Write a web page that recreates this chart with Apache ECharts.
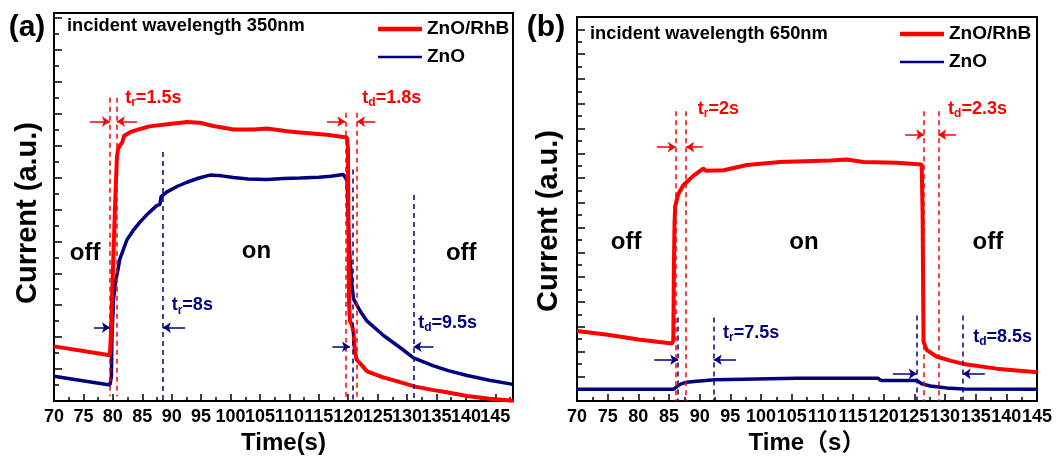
<!DOCTYPE html>
<html>
<head>
<meta charset="utf-8">
<script src="https://cdn.jsdelivr.net/npm/echarts@6/dist/echarts.min.js"></script>
<style>html,body{margin:0;padding:0;background:#fff;}#c{width:1063px;height:460px;}</style>
</head>
<body>
<div id="c"></div>
<script>
// ---------- data: panel (a) 350 nm ----------
const aRhB = [[70,3.42],[79.5,2.86],[79.65,4],[80.0,8],[80.4,12.5],[80.7,15.3],[80.9,15.8],[81.2,16.0],[81.6,16.2],[81.9,16.6],[83,16.85],[85.8,17.16],[86.0,17.05],[86.2,17.2],[89.2,17.33],[92.6,17.48],[94.8,17.43],[97.1,17.22],[100.5,17.0],[103.9,17.0],[106.2,17.06],[109.6,16.9],[111.8,16.81],[116.4,16.67],[119.8,16.5],[119.95,15.8],[120.05,10],[120.15,6],[120.3,5.0],[120.6,4.8],[120.9,4.3],[121.1,3.2],[121.4,2.6],[122.4,2.2],[123.2,1.85],[125.8,1.5],[128.8,1.18],[131.4,0.9],[134.5,0.68],[136.5,0.56],[140.2,0.31],[144,0.14],[148,0.02]];
const aZnO = [[70,1.55],[79.5,1.0],[79.75,1.5],[79.85,4.0],[80.0,5.3],[80.1,6.3],[80.4,7.3],[81.2,8.9],[82.4,10.1],[83.5,10.7],[84.6,11.2],[86,11.75],[87.5,12.25],[88.0,12.3],[88.2,12.8],[89.2,13.1],[91,13.45],[92.6,13.7],[94.5,13.95],[96.5,14.15],[98.5,14.1],[100.5,14.0],[103,13.9],[106.2,13.87],[109,13.93],[111.8,13.97],[115,14.02],[117,14.07],[119.2,14.18],[119.8,13.8],[120.05,11.0],[120.3,8.9],[120.6,7.4],[120.9,6.4],[122,5.65],[123.2,5.0],[126,4.1],[128.8,3.35],[131.1,2.7],[134.5,2.2],[137,1.9],[140.2,1.6],[144,1.3],[148,1.04]];
// ---------- data: panel (b) 650 nm ----------
const bRhB = [[70,5.65],[75,5.35],[80.3,4.95],[85.5,4.65],[85.7,4.9],[85.75,7.7],[85.8,11],[85.9,14.3],[86.0,15.7],[86.5,16.7],[87.3,17.4],[89.0,18.2],[90.6,18.76],[91.0,18.6],[93.9,18.63],[97.7,19.06],[103.1,19.3],[111.3,19.42],[114,19.5],[116.7,19.3],[122.1,19.24],[126.2,19.1],[126.35,15],[126.45,8],[126.5,4.8],[127.0,4.13],[128.6,3.6],[131,3.25],[133.0,3.0],[138.4,2.62],[145,2.33]];
const bZnO = [[70,0.95],[85.7,0.95],[86.8,1.35],[87.9,1.53],[89.5,1.61],[92.5,1.72],[92.8,1.83],[105.8,1.85],[119.1,1.85],[119.5,1.67],[125.4,1.67],[126.2,1.4],[127.6,1.22],[130.3,1.06],[133,0.98],[145,0.95]];

// annotations: dashed verticals [colour, t, vTop, vBottom]
const aDash = [['r',79.5,19.0,0.3],['r',80.7,19.0,0.3],['r',119.5,18.05,0.2],['r',121.5,18.05,0.2],['b',88.5,15.6,0],['b',120.7,14.5,0],['b',131.1,12.9,0]];
const bDash = [['r',86.1,23.4,0],['r',87.8,23.4,0],['r',126.6,23.4,0],['r',128.9,23.4,0],['b',86.5,6.75,0],['b',92.3,6.75,0],['b',125.4,6.9,0],['b',132.9,6.9,0]];
// arrows [colour, fromT, toT, v]
const aArrow = [['r',76.1,79.5,17.5],['r',84.1,80.7,17.5],['r',116.4,119.5,17.5],['r',124.6,121.5,17.5],['b',76.8,79.5,4.6],['b',92.3,88.5,4.6],['b',117.3,120.3,3.4],['b',134.5,131.1,3.4]];
const bArrow = [['r',83.0,86.1,20.5],['r',90.5,87.8,20.5],['r',123.5,126.6,21.5],['r',131.8,128.9,21.5],['b',82.6,86.5,3.34],['b',95.9,92.3,3.34],['b',121.5,125.4,2.2],['b',136.5,132.9,2.2]];
// time-constant labels [colour, t, v, subscript, text]
const aTimes = [['r',82.1,19.0,'r','=1.5s'],['r',122.4,19.0,'d','=1.8s'],['b',90.0,6.0,'r','=8s'],['b',131.9,4.9,'d','=9.5s']];
const bTimes = [['r',89.7,23.6,'r','=2s'],['r',130.5,23.6,'d','=2.3s'],['b',93.8,5.5,'r','=7.5s'],['b',134.6,5.2,'d','=8.5s']];
// on/off labels [text, t, v]
const aState = [['off',75.3,9.25],['on',104.4,9.35],['off',139.2,9.25]];
const bState = [['off',78.0,12.8],['on',107.0,12.8],['off',137.0,12.8]];
const legendNames = ['ZnO/RhB', 'ZnO'];

const RED = '#ff0000', BLUE = '#000080';
const FF = '"Liberation Sans", Arial, "Noto Sans CJK SC", sans-serif';
const col = c => c === 'r' ? RED : BLUE;

function dashLines(list, c) {
  return list.filter(d => d[0] === c).map(d => [{coord:[d[1], d[2]]}, {coord:[d[1], d[3]]}]);
}
function arrows(list, c) {
  return list.filter(d => d[0] === c).map(d => [{coord:[d[1], d[3]], symbol:'none'}, {coord:[d[2], d[3]], symbol:'arrow', symbolSize:8}]);
}
function timeLabels(list, c) {
  return list.filter(d => d[0] === c).map(d => ({
    coord:[d[1], d[2]], symbol:'circle', symbolSize:0,
    label:{show:true, position:'inside', align:'left', verticalAlign:'middle',
      formatter:'{m|t}{s|' + d[3] + '}{m|' + d[4] + '}',
      rich:{m:{fontSize:18, fontWeight:'bold', fontFamily:FF, color:col(c)},
            s:{fontSize:12, fontWeight:'bold', fontFamily:FF, color:col(c), padding:[10,0,0,0]}}}
  }));
}
function stateLabels(list) {
  return list.map(d => ({coord:[d[1], d[2]], symbol:'circle', symbolSize:0,
    label:{show:true, position:'inside', align:'center', verticalAlign:'middle', formatter:d[0],
      fontSize:24, fontWeight:'bold', fontFamily:FF, color:'#000'}}));
}

function mainSeries(name, data, idx, c, dash, arr, times, states) {
  const s = {
    name: name, type:'line', xAxisIndex:idx, yAxisIndex:idx, data:data,
    symbol:'none', showSymbol:false, smooth:false, z: c === 'r' ? 3 : 2,
    lineStyle:{color:col(c), width: c === 'r' ? 4 : 3.5},
    itemStyle:{color:col(c)},
    markLine:{silent:true, animation:false, symbol:['none','none'], label:{show:false},
      lineStyle:{color:col(c), width:1.5, type:[5,4]},
      emphasis:{disabled:true},
      data: dashLines(dash, c)},
    markPoint:{silent:true, animation:false, data: timeLabels(times, c).concat(states ? stateLabels(states) : [])}
  };
  return [s, {
    name: name + '_arrows', type:'line', xAxisIndex:idx, yAxisIndex:idx, data:[],
    symbol:'none', silent:true,
    markLine:{silent:true, animation:false, label:{show:false}, symbol:['none','arrow'], symbolSize:8,
      lineStyle:{color:col(c), width:1.5, type:'solid'}, emphasis:{disabled:true},
      data: arrows(arr, c)}
  }];
}

function xAxis(idx, max, name, gap) {
  return {type:'value', gridIndex:idx, min:70, max:max, interval:5,
    name:name, nameLocation:'middle', nameGap:gap,
    nameTextStyle:{fontSize:24, fontWeight:'bold', fontFamily:FF, color:'#000'},
    axisLine:{show:true, onZero:false, lineStyle:{color:'#000', width:2}},
    axisTick:{show:true, inside:true, length:7, lineStyle:{color:'#000', width:1.5}},
    minorTick:{show:true, splitNumber:2, length:4, lineStyle:{color:'#000', width:1.5}},
    axisLabel:{show:true, margin:7, fontSize:18, fontWeight:'bold', fontFamily:FF, color:'#000',
      showMaxLabel: max % 5 === 0, hideOverlap:false},
    splitLine:{show:false}};
}
function yAxis(idx, max) {
  return {type:'value', gridIndex:idx, min:0, max:max, interval:2,
    axisLine:{show:true, onZero:false, lineStyle:{color:'#000', width:2}},
    axisTick:{show:true, inside:true, length:8, lineStyle:{color:'#000', width:1.5}},
    minorTick:{show:true, splitNumber:2, length:5, lineStyle:{color:'#000', width:1.5}},
    axisLabel:{show:false}, splitLine:{show:false}};
}
function legend(left, top) {
  return {left:left, top:top, orient:'vertical', itemWidth:44, itemHeight:14, itemGap:8, padding:0,
    selectedMode:false, symbolKeepAspect:true,
    textStyle:{fontSize:19, fontWeight:'bold', fontFamily:FF, color:'#000', lineHeight:20},
    data:[
      {name:legendNames[0], icon:'path://M0,0L44,0L44,4.5L0,4.5Z', itemStyle:{color:RED}},
      {name:legendNames[1], icon:'path://M0,0L44,0L44,2.6L0,2.6Z', itemStyle:{color:BLUE}}
    ]};
}

const chart = echarts.init(document.getElementById('c'), null, {renderer:'canvas'});
chart.setOption({
  animation:false,
  backgroundColor:'#fff',
  grid:[
    {left:54, top:13, width:459, height:391, show:true, borderColor:'#000', borderWidth:2, backgroundColor:'transparent'},
    {left:577, top:17, width:460, height:390, show:true, borderColor:'#000', borderWidth:2, backgroundColor:'transparent'}
  ],
  xAxis:[xAxis(0, 148, 'Time(s)', 30), xAxis(1, 145, 'Time（s）', 22)],
  yAxis:[yAxis(0, 24.3), yAxis(1, 31)],
  legend:[legend(378, 19), legend(900, 24)],
  series:[].concat(
    mainSeries('ZnO/RhB', aRhB, 0, 'r', aDash, aArrow, aTimes, aState),
    mainSeries('ZnO', aZnO, 0, 'b', aDash, aArrow, aTimes, null),
    mainSeries('ZnO/RhB', bRhB, 1, 'r', bDash, bArrow, bTimes, bState),
    mainSeries('ZnO', bZnO, 1, 'b', bDash, bArrow, bTimes, null)
  ),
  graphic:[
    {type:'text', x:27, y:28, style:{text:'(a)', font:'bold 30px ' + FF, textAlign:'center', textVerticalAlign:'middle', fill:'#000'}},
    {type:'text', x:546, y:28, style:{text:'(b)', font:'bold 30px ' + FF, textAlign:'center', textVerticalAlign:'middle', fill:'#000'}},
    {type:'text', x:28, y:213, rotation:Math.PI/2, style:{text:'Current (a.u.)', font:'bold 29px ' + FF, textAlign:'center', textVerticalAlign:'middle', fill:'#000'}},
    {type:'text', x:549, y:221, rotation:Math.PI/2, style:{text:'Current (a.u.)', font:'bold 29px ' + FF, textAlign:'center', textVerticalAlign:'middle', fill:'#000'}},
    {type:'text', x:67, y:26, style:{text:'incident wavelength 350nm', font:'bold 18.3px ' + FF, textAlign:'left', textVerticalAlign:'middle', fill:'#000'}},
    {type:'text', x:590, y:34, style:{text:'incident wavelength 650nm', font:'bold 18.3px ' + FF, textAlign:'left', textVerticalAlign:'middle', fill:'#000'}}
  ]
});
</script>
</body>
</html>
